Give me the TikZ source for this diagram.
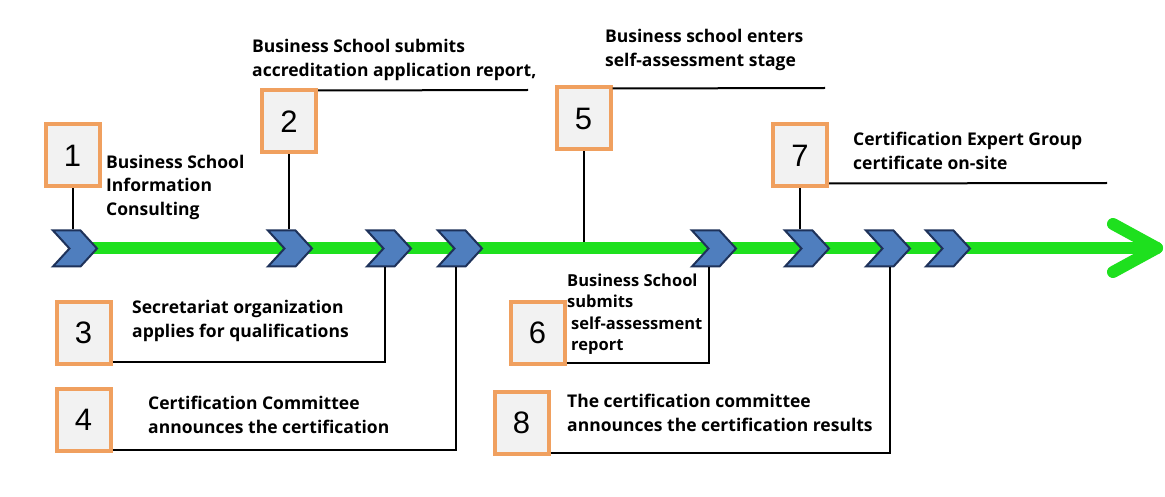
\documentclass[tikz,border=0pt]{standalone}
\usepackage{fontspec}
\setmainfont{Open Sans}
\newfontfamily\numfont{Liberation Sans}
\usetikzlibrary{shapes.symbols}

\definecolor{stepgreen}{RGB}{30,224,30}
\definecolor{chevfill}{RGB}{79,126,190}
\definecolor{chevline}{RGB}{30,50,90}
\definecolor{boxline}{RGB}{240,160,95}
\definecolor{boxfill}{RGB}{242,242,242}

\tikzset{
  numbox/.style={draw=boxline,fill=boxfill,line width=4pt,minimum width=54pt,
    minimum height=62pt,inner sep=0pt,font=\numfont\fontsize{31}{31}\selectfont},
  chev/.style={signal,signal to=east,signal from=west,signal pointer angle=95,
    draw=chevline,fill=chevfill,line width=2pt,minimum width=44pt,
    minimum height=36pt,inner sep=0pt},
  steptext/.style={anchor=west,align=left,inner sep=0pt,
    font=\bfseries\fontsize{17.5}{23.5}\selectfont},
  link/.style={line width=2pt,black},
  track/.style={stepgreen,line width=12pt,line cap=round,line join=round}
}

\begin{document}
\begin{tikzpicture}[x=1pt,y=-1pt]
  \useasboundingbox[fill=white] (0,0) rectangle (1165,497);

  % timeline
  \coordinate (tip) at (1157,248);
  \coordinate (upper) at (1113,224);
  \coordinate (lower) at (1113,272);
  \draw[track] (75,248) -- (tip);
  \draw[track] (upper) -- (tip) -- (lower);

  \node[chev] (c1) at (75,248.5) {};
  \node[chev] (c2) at (290,248.5) {};
  \node[chev] (c3) at (389,248.5) {};
  \node[chev] (c4) at (460,248.5) {};
  \node[chev] (c5) at (714,248.5) {};
  \node[chev] (c6) at (807,248.5) {};
  \node[chev] (c7) at (888,248.5) {};
  \node[chev] (c8) at (948,248.5) {};

  % steps above the line
  \node[numbox] (b1) at (72.5,155.5) {1};
  \node[numbox] (b2) at (289,121.5) {2};
  \node[numbox] (b5) at (583.5,118.5) {5};
  \node[numbox] (b7) at (800,155.5) {7};

  \node[steptext] (t1) at (106,187) {Business School\\Information\\Consulting};
  \node[steptext] (t2) at (252,60) {Business School submits\\accreditation application report,};
  \node[steptext] (t5) at (605,50) {Business school enters\\self-assessment stage};
  \node[steptext] (t7) at (853,151) {Certification Expert Group\\certificate on-site};

  \coordinate (e2) at (528,90);
  \coordinate (e5) at (825,88);
  \coordinate (e7) at (1107,183);
  \coordinate (g5) at (586,242);

  \draw[link] (b1.south) -- (b1.south |- c1.north);
  \draw[link] ([yshift=-2pt]b2.north east) -- (e2);
  \draw[link] (b2.south) -- (b2.south |- c2.north);
  \draw[link] ([yshift=-3pt]b5.north east) -- (e5);
  \draw[link] (b5.south) -- (b5.south |- g5);
  \draw[link] ([yshift=5pt]b7.south east) -- (e7);
  \draw[link] (b7.south) -- (b7.south |- c6.north);

  % steps below the line
  \node[numbox] (b3) at (83.5,332.5) {3};
  \node[numbox] (b4) at (83.5,420) {4};
  \node[numbox] (b6) at (537.5,332.5) {6};
  \node[numbox] (b8) at (521.5,422.5) {8};

  \node[steptext] (t3) at (132,321) {Secretariat organization\\applies for qualifications};
  \node[steptext] (t4) at (148,415) {Certification Committee\\announces the certification};
  \node[steptext,font=\bfseries\fontsize{16.5}{21.5}\selectfont] (t6) at (567,314)
    {Business School\\submits\\\hspace*{4pt}self-assessment\\\hspace*{4pt}report};
  \node[steptext] (t8) at (567,413) {The certification committee\\announces the certification results};

  \draw[link] ([yshift=4pt]b3.south east) -| ([xshift=-4pt]c3.south);
  \draw[link] ([yshift=3pt]b4.south east) -| ([xshift=-4pt]c4.south);
  \draw[link] ([yshift=3pt]b6.south east) -| ([xshift=-5pt]c5.south);
  \draw[link] ([yshift=3pt]b8.south east) -| ([xshift=2pt]c7.south);
\end{tikzpicture}
\end{document}
